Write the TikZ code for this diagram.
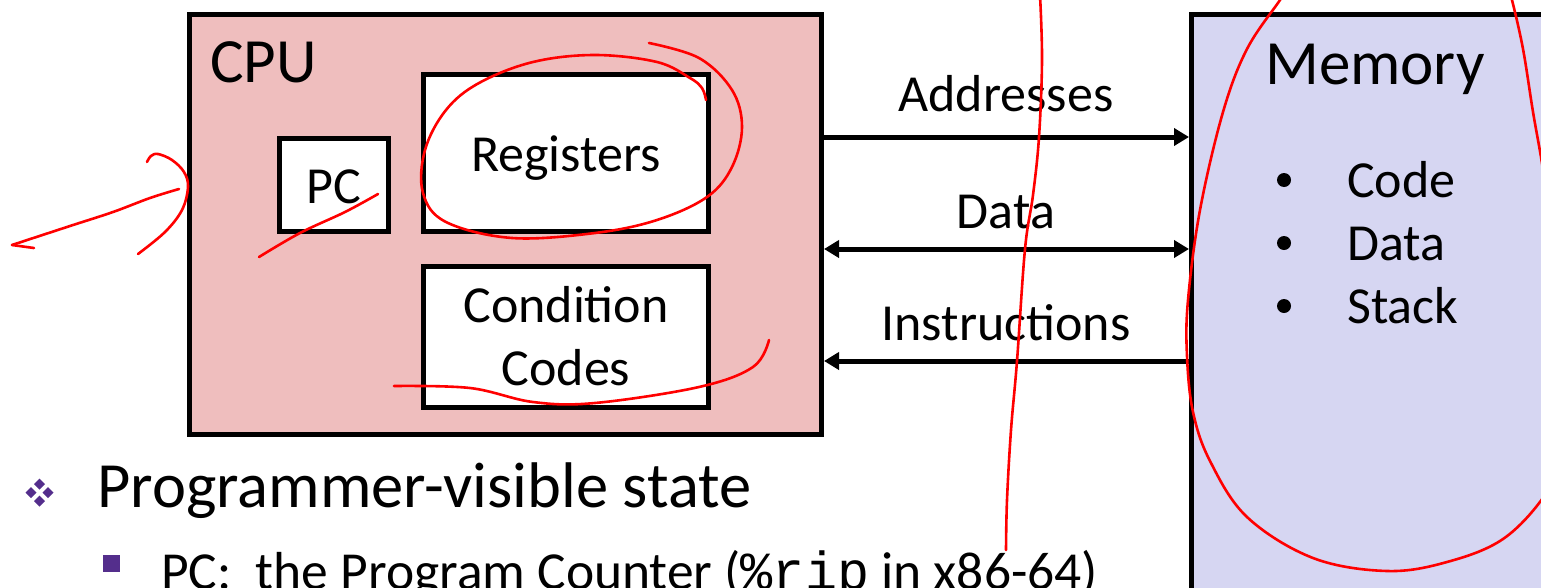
\documentclass[tikz,border=0pt]{standalone}
\usepackage{fontspec}
\setmainfont{Carlito}
\setmonofont{Liberation Mono}
\usetikzlibrary{arrows.meta}
\definecolor{cpufill}{RGB}{239,190,190}
\definecolor{memfill}{RGB}{214,214,242}
\definecolor{bulletpurple}{RGB}{84,46,140}
\definecolor{ink}{RGB}{255,0,0}

\begin{document}
\begin{tikzpicture}[x=1pt,y=-1pt,
  unit/.style={draw=black, line width=5pt, rectangle, inner sep=0pt, anchor=north west},
  lbl/.style={inner sep=0pt, anchor=base, font=\fontsize{52}{60}\selectfont},
  title/.style={inner sep=0pt, anchor=base west, font=\fontsize{63}{72}\selectfont},
  bus/.style={line width=5pt, -{Triangle[length=15pt,width=17pt]}},
  dbus/.style={line width=5pt, {Triangle[length=15pt,width=17pt]}-{Triangle[length=15pt,width=17pt]}},
  pen/.style={draw=ink, line width=2.6pt, line cap=round, line join=round},
  gem/.style={fill=bulletpurple, draw=none}
]
\path[use as bounding box] (0,0) rectangle (1541,587);
\clip (0,0) rectangle (1541,587);

% processor and its state (positions are outer corners)
\node[unit, fill=cpufill, minimum width=632pt, minimum height=420pt] (cpu) at (187,12) {};
\node[title] (cpulbl) at (210,82) {CPU};
\node[unit, fill=white, minimum width=109pt, minimum height=93pt] (pc) at (277,136) {};
\node[lbl] (pclbl) at (334,203) {PC};
\node[unit, fill=white, minimum width=285pt, minimum height=157pt] (regs) at (421,72) {};
\node[lbl] (regslbl) at (566,171) {Registers};
\node[unit, fill=white, minimum width=285pt, minimum height=141pt] (cc) at (421,264) {};
\node[lbl] (cclbl1) at (566,322) {Condition};
\node[lbl] (cclbl2) at (566,385) {Codes};

% memory
\node[unit, fill=memfill, minimum width=500pt, minimum height=700pt] (mem) at (1189,12) {};
\node[title] (memlbl) at (1265,84) {Memory};
\foreach \y/\t [count=\i] in {197/Code, 260/Data, 323/Stack}{
  \fill (1284,\y-17) circle (7pt);
  \node[lbl, anchor=base west] (memitem\i) at (1347,\y) {\t};
}

% buses between processor and memory
\coordinate (addr) at (0,137);
\coordinate (data) at (0,249);
\coordinate (instr) at (0,361);
\draw[bus]  (cpu.east |- addr) -- (mem.west |- addr);
\draw[dbus] (cpu.east |- data) -- (mem.west |- data);
\draw[bus]  (mem.west |- instr) -- (cpu.east |- instr);
\node[lbl] (addrlbl) at (1006,111) {Addresses};
\node[lbl] (datalbl) at (1006,228) {Data};
\node[lbl] (instrlbl) at (1006,340) {Instructions};

% text below
\foreach \dx/\dy in {0/-8.5, -8.5/0, 8.5/0, 0/8.5}{
  \fill[gem] (39.5+\dx,492.5+\dy-5.5) -- (39.5+\dx+5.5,492.5+\dy) -- (39.5+\dx,492.5+\dy+5.5) -- (39.5+\dx-5.5,492.5+\dy) -- cycle;
}
\node[title, font=\fontsize{64.5}{72}\selectfont] (point) at (97,507) {Programmer-visible state};
\fill[bulletpurple] (103,555) rectangle (120,572);
\node[lbl, anchor=base west, font=\fontsize{53.5}{60}\selectfont] (subpoint) at (161,589) {PC:\ \ the Program Counter ({\ttfamily\%rip} in x86-64)};

% pen annotations
\draw[pen] plot[smooth, tension=0.6] coordinates {(179,189) (150,198) (113,212) (70,226) (12,245)};
\draw[pen] (12,245) -- (34,248);
\draw[pen] plot[smooth, tension=0.6] coordinates {(147,162) (151,156) (158,154) (172,160) (184,172) (188,187) (182,210) (165,232) (138,254)};
\draw[pen] plot[smooth, tension=0.6] coordinates {(378,194) (345,212) (300,233) (259,257)};
\draw[pen] plot[smooth, tension=0.6] coordinates {(706,100) (702,88) (690,78) (657,62) (595,55) (533,62) (479,83) (446,110) (425,150) (423,193) (446,222) (512,238) (595,233) (657,220) (707,197) (732,167) (742,127) (732,90) (699,58) (649,43)};
\draw[pen] plot[smooth, tension=0.6] coordinates {(394,386) (470,388) (533,402) (595,403) (699,387) (753,367) (769,340)};
\draw[pen] plot[smooth, tension=0.6] coordinates {(1040,-5) (1042,60) (1039,137) (1033,195) (1025,249) (1017,361) (1011,430) (1007,500) (1006,550)};
\draw[pen] plot[smooth, tension=0.6] coordinates {(1287,-12) (1280,0) (1247,49) (1223,112) (1200,210) (1188,300) (1187,356) (1193,412) (1210,461) (1247,517) (1313,558) (1387,571) (1447,562) (1503,539) (1545,495) (1565,450)};
\draw[pen] plot[smooth, tension=0.6] coordinates {(1508,-12) (1512,0) (1523,49) (1533,112) (1543,170) (1550,230)};
\end{tikzpicture}
\end{document}
